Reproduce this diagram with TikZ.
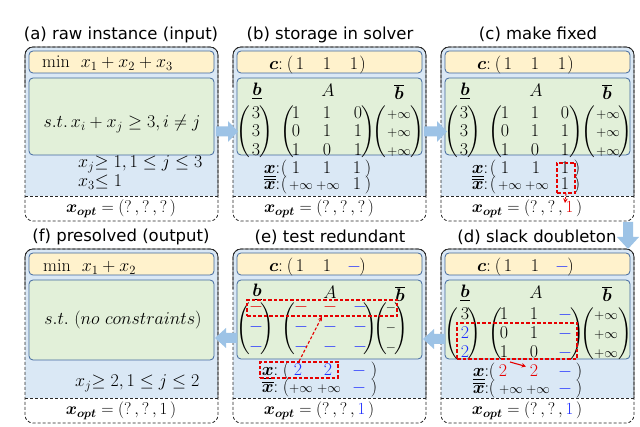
\RequirePackage{fix-cm}
\documentclass[tikz,border=0pt]{standalone}
\usepackage{amsmath}
\usepackage{bm}
\usepackage{fontspec}
\newfontfamily\ttlfont{DejaVu Sans}
\usetikzlibrary{arrows.meta}
\definecolor{pblue}{HTML}{DAE8F5}
\definecolor{pyellow}{HTML}{FFF2CC}
\definecolor{pgreen}{HTML}{E2F0D9}
\definecolor{pedge}{HTML}{41689E}
\definecolor{arrblue}{HTML}{9DC3E6}
\definecolor{myred}{HTML}{E60000}
\definecolor{myblue}{HTML}{1E2EFF}
\newcommand\mypl{$\delimiterfactor=1000 \delimitershortfall=0pt \left(\vcenter{\hrule height 23pt depth 23pt width 0pt}\right.$}
\newcommand\mypr{$\delimiterfactor=1000 \delimitershortfall=0pt \left.\vcenter{\hrule height 23pt depth 23pt width 0pt}\right)$}
\newcommand\pinf{\text{\fontsize{13.5}{16}\selectfont$+\infty$}}
\newcommand\smin{\text{\fontsize{13}{16}\selectfont$-$}}
\newcommand\tbl[1]{{\color{myblue}#1}}
\newcommand\trd[1]{{\color{myred}#1}}
\newcommand\setrows[3]{\def\rowA{#1}\def\rowB{#2}\def\rowC{#3}}
\newcommand\mcol[5]{%
  \node[mt] (#1-1) at (#2,\rowA) {$#3$};
  \node[mt] (#1-2) at (#2,\rowB) {$#4$};
  \node[mt] (#1-3) at (#2,\rowC) {$#5$};}
\newcommand\crow[4]{%
  \node[mt] (#1-c) at (43,23) {$\bm{c}{:}$};
  \node[mt] (#1-cl) at (57,23) {$($};
  \node[mt] (#1-c1) at (67,23) {$#2$};
  \node[mt] (#1-c2) at (94,23) {$#3$};
  \node[mt] (#1-c3) at (121,23) {$#4$};
  \node[mt] (#1-cr) at (129.5,23) {$)$};}
\newcommand\hrow[1]{%
  \node[hd] (#1-hl) at (24,44) {$\underline{\bm{b}}$};
  \node[hd] (#1-hA) at (95,43) {$A$};
  \node[hd] (#1-hu) at (166,45) {$\overline{\bm{b}}$};}
\newcommand\pframe[3]{%
  \begin{scope}[shift={(#1,#2)}]
    \fill[pblue, rounded corners=8pt] (0,0) rectangle (193,149);
    \fill[pblue] (0,120) rectangle (193,149);
    \draw[sline, rounded corners=8pt] (0,40) |- (193,0) -- (193,149);
    \draw[dline, rounded corners=8pt] (0,0) rectangle (193,174);
    \draw[dline] (0,149) -- (193,149);
    \draw[inbox, fill=pyellow] (4,4) rectangle (189,26);
    \draw[inbox, fill=pgreen] (4,31) rectangle (189,#3);
  \end{scope}}
\tikzset{
  mt/.style={font=\fontsize{18}{21}\selectfont, inner sep=0pt, anchor=base},
  ot/.style={font=\fontsize{17}{20}\selectfont, inner sep=0pt, anchor=base},
  hd/.style={font=\fontsize{18}{21}\selectfont, inner sep=0pt},
  par/.style={font=\fontsize{17}{20}\selectfont, inner sep=0pt},
  ttl/.style={font=\ttlfont\fontsize{16.5}{20}\selectfont, inner sep=0pt},
  inbox/.style={draw=pedge, line width=0.8pt, rounded corners=4pt},
  dline/.style={draw=black!85, line width=0.8pt, dash pattern=on 3pt off 2pt},
  sline/.style={draw=black!85, line width=0.8pt},
  rbox/.style={draw=myred, line width=1.1pt, dash pattern=on 3.5pt off 2pt, inner sep=0pt, rectangle},
  rarr/.style={draw=myred, line width=1.1pt, -{Stealth[length=4.5pt,width=4.5pt]}},
  blk/.style={fill=arrblue, draw=none},
}
\begin{document}
\begin{tikzpicture}[x=1pt,y=-1pt]
\fill[white] (0,0) rectangle (640,427);
\useasboundingbox (0,0) rectangle (640,427);
% frames
\pframe{25}{47}{108}
\pframe{233}{47}{108}
\pframe{441}{47}{108}
\pframe{25}{249}{111}
\pframe{233}{249}{110}
\pframe{441}{249}{110}
% titles
\node[ttl] (ta) at (121,34.5) {(a) raw instance (input)};
\node[ttl] (tb) at (330,34.5) {(b) storage in solver};
\node[ttl] (tc) at (538,34.5) {(c) make fixed};
\node[ttl] (tf) at (121,237) {(f) presolved (output)};
\node[ttl] (te) at (330,237) {(e) test redundant};
\node[ttl] (td) at (537,237) {(d) slack doubleton};
% ---------- panel (a)
\begin{scope}[shift={(25,47)}]
  \node[mt, anchor=base west] (a-min) at (17,21) {$\min\;\,x_1 + x_2 + x_3$};
  \node[mt] (a-st) at (97,81) {$s.t.\,x_i + x_j \geq 3, i \neq j$};
  \node[mt, anchor=base west] (a-b1) at (53,121) {$x_j{\geq}\;1, 1 \leq j \leq 3$};
  \node[mt, anchor=base west] (a-b2) at (53,140) {$x_3{\leq}\;1$};
  \node[ot] (a-opt) at (96,166) {$\bm{x_{opt}} = (?\,,?\,,?\,)$};
\end{scope}
% ---------- panel (b)
\begin{scope}[shift={(233,47)}]
  \crow{b}{1}{1}{1}
  \hrow{b}
  \setrows{72}{90}{109}
  \node[par] (b-lp1) at (11,85) {\mypl};
  \mcol{b-l}{23}{3}{3}{3}
  \node[par] (b-lp2) at (33,85) {\mypr};
  \node[par] (b-ap1) at (55,85) {\mypl};
  \mcol{b-a1}{63}{1}{0}{1}
  \mcol{b-a2}{94}{1}{1}{0}
  \mcol{b-a3}{125}{0}{1}{1}
  \node[par] (b-ap2) at (135,85) {\mypr};
  \node[par] (b-up1) at (147,85) {\mypl};
  \mcol{b-u}{166}{\pinf}{\pinf}{\pinf}
  \node[par] (b-up2) at (184,85) {\mypr};
  \node[mt] (b-xl) at (39,127) {$\underline{\bm{x}}{:}$};
  \node[mt] (b-xlp) at (51,127) {$($};
  \node[mt] (b-x1) at (63,127) {$1$};
  \node[mt] (b-x2) at (94,127) {$1$};
  \node[mt] (b-x3) at (124,127) {$1$};
  \node[mt] (b-xrp) at (135,127) {$)$};
  \node[mt] (b-ul) at (39,143) {$\overline{\bm{x}}{:}$};
  \node[mt] (b-ulp) at (51,143) {$($};
  \node[mt] (b-u1) at (68,143) {$\pinf$};
  \node[mt] (b-u2) at (95,143) {$\pinf$};
  \node[mt] (b-u3) at (124,143) {$1$};
  \node[mt] (b-urp) at (135,143) {$)$};
  \node[ot] (b-opt) at (86,166) {$\bm{x_{opt}} = (?\,,?\,,?\,)$};
\end{scope}
% ---------- panel (c)
\begin{scope}[shift={(441,47)}]
  \crow{c}{1}{1}{1}
  \hrow{c}
  \setrows{72}{90}{109}
  \node[par] (c-lp1) at (11,85) {\mypl};
  \mcol{c-l}{23}{3}{3}{3}
  \node[par] (c-lp2) at (33,85) {\mypr};
  \node[par] (c-ap1) at (55,85) {\mypl};
  \mcol{c-a1}{64}{1}{0}{1}
  \mcol{c-a2}{94}{1}{1}{0}
  \mcol{c-a3}{124}{0}{1}{1}
  \node[par] (c-ap2) at (135,85) {\mypr};
  \node[par] (c-up1) at (148,85) {\mypl};
  \mcol{c-u}{167}{\pinf}{\pinf}{\pinf}
  \node[par] (c-up2) at (184,85) {\mypr};
  \node[mt] (c-xl) at (39,127) {$\underline{\bm{x}}{:}$};
  \node[mt] (c-xlp) at (52,127) {$($};
  \node[mt] (c-x1) at (64,127) {$1$};
  \node[mt] (c-x2) at (95,127) {$1$};
  \node[mt] (c-x3) at (124,127) {$1$};
  \node[mt] (c-xrp) at (136,127) {$)$};
  \node[mt] (c-ul) at (39,143) {$\overline{\bm{x}}{:}$};
  \node[mt] (c-ulp) at (52,143) {$($};
  \node[mt] (c-u1) at (69,143) {$\pinf$};
  \node[mt] (c-u2) at (96,143) {$\pinf$};
  \node[mt] (c-u3) at (124,143) {$1$};
  \node[mt] (c-urp) at (136,143) {$)$};
  \node[rbox, minimum width=18pt, minimum height=30pt] (c-rb) at (125,131) {};
  \node[ot] (c-opt) at (86,166) {$\bm{x_{opt}} = (?\,,?\,,\trd{1}\,)$};
  \coordinate (c-tip) at (124,156);
  \draw[rarr, dash pattern=on 2pt off 1.5pt] (c-rb.south) -- (c-tip);
\end{scope}
% ---------- panel (d)
\begin{scope}[shift={(441,249)}]
  \crow{d}{1}{1}{\tbl{-}}
  \hrow{d}
  \setrows{71}{90}{109}
  \node[par] (d-lp1) at (11,85) {\mypl};
  \mcol{d-l}{24}{3}{\tbl{2}}{\tbl{2}}
  \node[par] (d-lp2) at (33,85) {\mypr};
  \node[par] (d-ap1) at (55,85) {\mypl};
  \mcol{d-a1}{63}{1}{0}{1}
  \mcol{d-a2}{93}{1}{1}{0}
  \mcol{d-a3}{124}{\tbl{-}}{\tbl{-}}{\tbl{-}}
  \node[par] (d-ap2) at (136,85) {\mypr};
  \node[par] (d-up1) at (147,85) {\mypl};
  \mcol{d-u}{165}{\pinf}{\pinf}{\pinf}
  \node[par] (d-up2) at (184,85) {\mypr};
  \node[rbox, minimum width=120pt, minimum height=36pt] (d-rb) at (76,92) {};
  \node[mt] (d-xl) at (40,128) {$\underline{\bm{x}}{:}$};
  \node[mt] (d-xlp) at (51,128) {$($};
  \node[mt] (d-x1) at (62,128) {$\trd{2}$};
  \node[mt] (d-x2) at (93,128) {$\trd{2}$};
  \node[mt] (d-x3) at (124,128) {$\tbl{-}$};
  \node[mt] (d-xrp) at (138,128) {$)$};
  \node[mt] (d-ul) at (40,145) {$\overline{\bm{x}}{:}$};
  \node[mt] (d-ulp) at (51,145) {$($};
  \node[mt] (d-u1) at (70,145) {$\pinf$};
  \node[mt] (d-u2) at (97,145) {$\pinf$};
  \node[mt] (d-u3) at (124,145) {$\tbl{-}$};
  \node[mt] (d-urp) at (138,145) {$)$};
  \coordinate (d-as) at (69,113);
  \coordinate (d-ae) at (85,117.5);
  \draw[rarr] (d-as) -- (d-ae);
  \node[ot] (d-opt) at (86,166) {$\bm{x_{opt}} = (?\,,?\,,\tbl{1}\,)$};
\end{scope}
% ---------- panel (e)
\begin{scope}[shift={(233,249)}]
  \crow{e}{1}{1}{\tbl{-}}
  \node[hd] (e-hl) at (24,43) {$\underline{\bm{b}}$};
  \node[hd] (e-hA) at (97,43) {$A$};
  \node[hd] (e-hu) at (167,45) {$\overline{\bm{b}}$};
  \setrows{62.5}{82.5}{102.5}
  \node[par] (e-lp1) at (11,79.5) {\mypl};
  \mcol{e-l}{23}{\trd{-}}{\tbl{-}}{\tbl{-}}
  \node[par] (e-lp2) at (34,79.5) {\mypr};
  \node[par] (e-ap1) at (56,79.5) {\mypl};
  \mcol{e-a1}{68}{\trd{-}}{\tbl{-}}{\tbl{-}}
  \mcol{e-a2}{97}{\trd{-}}{\tbl{-}}{\tbl{-}}
  \mcol{e-a3}{127}{\tbl{-}}{\tbl{-}}{\tbl{-}}
  \node[par] (e-ap2) at (137,79.5) {\mypr};
  \node[par] (e-up1) at (148,79.5) {\mypl};
  \mcol{e-u}{158}{\smin}{\smin}{\smin}
  \node[par] (e-up2) at (168,79.5) {\mypr};
  \node[rbox, minimum width=150pt, minimum height=16pt] (e-rb) at (89,59) {};
  \node[mt] (e-xl) at (37,127) {$\underline{\bm{x}}{:}$};
  \node[mt] (e-xlp) at (53,127) {$($};
  \node[mt] (e-x1) at (65,127) {$\tbl{2}$};
  \node[mt] (e-x2) at (95,127) {$\tbl{2}$};
  \node[mt] (e-x3) at (126,127) {$\tbl{-}$};
  \node[mt] (e-xrp) at (141,127) {$)$};
  \node[mt] (e-ul) at (37,144) {$\overline{\bm{x}}{:}$};
  \node[mt] (e-ulp) at (53,144) {$($};
  \node[mt] (e-u1) at (68,144) {$\pinf$};
  \node[mt] (e-u2) at (96,144) {$\pinf$};
  \node[mt] (e-u3) at (126,144) {$\tbl{-}$};
  \node[mt] (e-urp) at (141,144) {$)$};
  \node[rbox, minimum width=78pt, minimum height=16pt] (e-xb) at (66,121) {};
  \draw[rarr, dash pattern=on 3pt off 2pt] (e-xb.north) -- (e-rb.south);
  \node[ot] (e-opt) at (86,166) {$\bm{x_{opt}} = (?\,,?\,,\tbl{1}\,)$};
\end{scope}
% ---------- panel (f)
\begin{scope}[shift={(25,249)}]
  \node[mt, anchor=base west] (f-min) at (18,23) {$\min\;\,x_1 + x_2$};
  \node[mt] (f-st) at (98,76) {$s.t.\ (no\ constraints)$};
  \node[mt, anchor=base west] (f-bd) at (50,138) {$x_j{\geq}\;2, 1 \leq j \leq 2$};
  \node[ot] (f-opt) at (96,166) {$\bm{x_{opt}} = (?\,,?\,,1\,)$};
\end{scope}
% ---------- block arrows between panels
\fill[blk] (216,126.5) -- (228,126.5) -- (228,121) -- (238,131.5) -- (228,142) -- (228,136.5) -- (216,136.5) -- cycle;
\fill[blk] (424,126.5) -- (437,126.5) -- (437,121) -- (447,131.5) -- (437,142) -- (437,136.5) -- (424,136.5) -- cycle;
\fill[blk] (623,222) -- (633,222) -- (633,237) -- (639,237) -- (628,249) -- (617,237) -- (623,237) -- cycle;
\fill[blk] (445,334) -- (434,334) -- (434,329) -- (423,339) -- (434,349) -- (434,344) -- (445,344) -- cycle;
\fill[blk] (237,333) -- (226,333) -- (226,328) -- (215,338) -- (226,348) -- (226,343) -- (237,343) -- cycle;
\end{tikzpicture}
\end{document}
